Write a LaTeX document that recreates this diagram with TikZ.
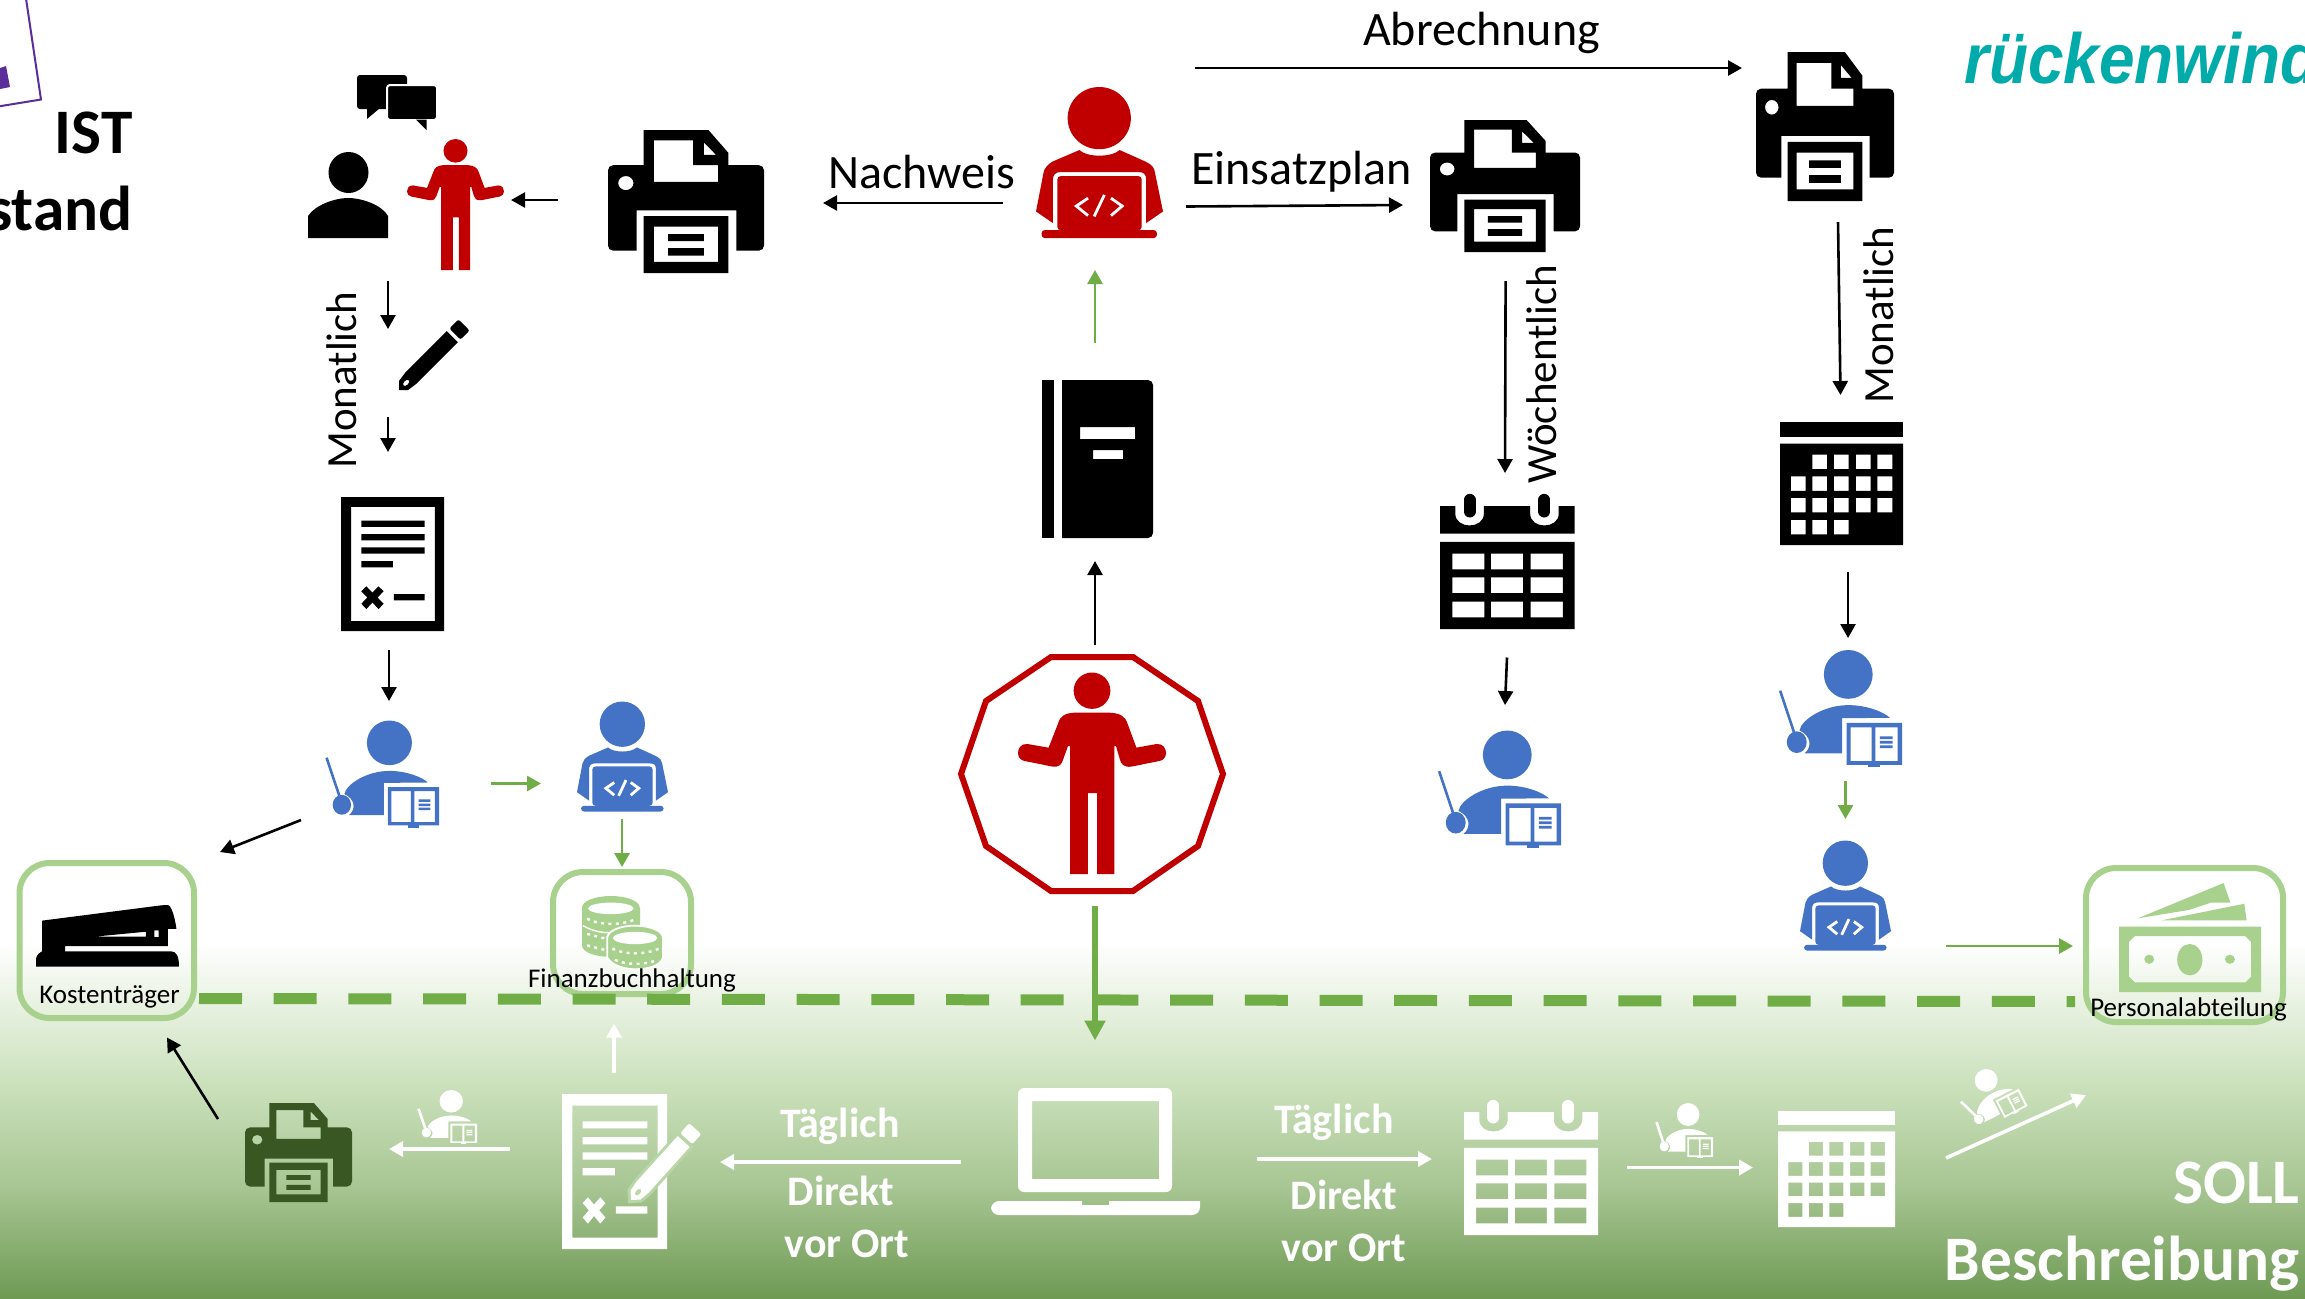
\documentclass[tikz,border=0pt]{standalone}
\usepackage{fontspec}
\setmainfont{Carlito}
\newfontfamily\logofont{Liberation Sans}
\usetikzlibrary{arrows.meta}
\definecolor{redc}{HTML}{C00000}
\definecolor{bluec}{HTML}{4472C4}
\definecolor{greenc}{HTML}{70AD47}
\definecolor{lightg}{HTML}{A9D18E}
\definecolor{darkg}{HTML}{385723}
\definecolor{teallogo}{HTML}{00ABA9}
\definecolor{purplec}{HTML}{5B2D9B}
\definecolor{gapg}{HTML}{B9D6A6}
\definecolor{g1}{HTML}{CBE1BC}
\definecolor{g2}{HTML}{A7C592}
\definecolor{g3}{HTML}{6E9A54}
\tikzset{
  blk/.style={draw=black,line width=1.3pt,-{Triangle[width=7.5pt,length=7pt]}},
  grn/.style={draw=greenc,line width=1.4pt,-{Triangle[width=7.5pt,length=7pt]}},
  wht/.style={draw=white,line width=1.8pt,-{Triangle[width=7.5pt,length=7pt]}},
  grnbig/.style={draw=greenc,line width=3pt,-{Triangle[width=10pt,length=10pt]}},
  boxg/.style={draw=lightg,line width=3pt,rounded corners=15pt,inner sep=0pt},
  lab/.style={inner sep=0pt,font=\fontsize{24}{24}\selectfont},
  rotlab/.style={inner sep=0pt,rotate=90,font=\fontsize{21.5}{22}\selectfont},
  small/.style={inner sep=0pt,font=\fontsize{13.5}{14}\selectfont},
  title/.style={inner sep=0pt,font=\fontsize{31.7}{32}\selectfont\bfseries},
  wlab/.style={inner sep=0pt,text=white,font=\fontsize{21}{21}\selectfont\bfseries},
}
% all icons: x y w h colour, in reference pixels
\newcommand{\printericon}[5]{\begin{scope}[shift={(#1,#2)},xscale=#3/306,yscale=#4/345]
  \fill[#5,even odd rule]
    [rounded corners=2.5pt] (0,85) [sharp corners] -- (70,85) -- (70,0) -- (197,0) -- (236,55) -- (236,85) [rounded corners=2.5pt] -- (306,85) -- (306,291) [sharp corners] -- (252,291) -- (252,194) -- (56,194) -- (56,291) [rounded corners=2.5pt] -- (0,291) -- cycle
    [sharp corners] (90,25) -- (167,25) -- (167,85) -- (216,85) -- (216,125) -- (90,125) -- cycle
    (188,30) -- (212,60) -- (188,60) -- cycle
    (35,128) ellipse [x radius=15,y radius=17];
  \fill[#5,even odd rule] (70,208) rectangle (236,345) (90,233) rectangle (216,318)
    (118,251) rectangle (188,268) (118,285) rectangle (188,303);
\end{scope}}
\newcommand{\codericon}[5]{\begin{scope}[shift={(#1,#2)},xscale=#3/249,yscale=#4/364]
  \fill[#5] (124,75) ellipse [x radius=62,y radius=75];
  \fill[#5] (85,152) .. controls (100,170) and (148,170) .. (164,152) -- (215,180) .. controls (228,188) and (232,195) .. (233,205) -- (249,300) -- (216,328) -- (216,225) .. controls (216,210) and (212,205) .. (200,205) -- (48,205) .. controls (38,205) and (33,212) .. (33,225) -- (33,328) -- (0,300) -- (15,205) .. controls (17,195) and (22,188) .. (32,180) -- cycle;
  \fill[#5,rounded corners=1.5pt] (42,345) -- (42,215) -- (207,215) -- (207,345) -- cycle;
  \fill[#5,rounded corners=1.5pt] (11,345) -- (237,345) -- (237,364) -- (11,364) -- cycle;
  \draw[white,line width=1.4pt] (102,268) -- (79,287) -- (102,310) (134,260) -- (114,312) (147,268) -- (169,287) -- (147,310);
\end{scope}}
\newcommand{\teachericon}[5]{\begin{scope}[shift={(#1,#2)},xscale=#3/222,yscale=#4/259]
  \fill[#5] (125,54) ellipse [x radius=44,y radius=54];
  \fill[#5] (46,229) .. controls (60,215) and (58,190) .. (37,178) .. controls (40,155) and (80,122) .. (125,122) .. controls (160,122) and (190,138) .. (200,150) -- (114,151) -- (114,229) -- cycle;
  \fill[#5] (32,204) ellipse [x radius=18,y radius=24];
  \draw[#5,line width=1.3pt] (2,90) -- (27,182);
  \fill[#5,even odd rule] (122,161) rectangle (222,254) (129,171) rectangle (167,246) (174,171) rectangle (214,246)
    (182,191) rectangle (205,197) (182,201) rectangle (205,207) (182,211) rectangle (205,217);
  \fill[#5] (161,254) rectangle (182,259);
\end{scope}}
\newcommand{\shrugicon}[5]{\begin{scope}[shift={(#1,#2)},xscale=#3/290,yscale=#4/488]
  \fill[#5] (145,44) ellipse [x radius=36,y radius=44];
  \fill[#5] (145,97) -- (175,97) .. controls (200,98) and (210,105) .. (215,125) -- (232,182) -- (272,173) .. controls (285,172) and (290,185) .. (290,195) .. controls (290,205) and (285,212) .. (278,214) -- (222,228) .. controls (208,230) and (202,222) .. (200,212) -- (192,178) -- (189,178) -- (189,488) -- (155,488) -- (155,292) -- (137,292) -- (137,488) -- (102,488) -- (102,178) -- (98,178) -- (88,212) .. controls (86,222) and (80,230) .. (68,228) -- (12,214) .. controls (5,212) and (0,205) .. (0,195) .. controls (0,185) and (5,172) .. (18,173) -- (60,182) -- (78,125) .. controls (83,105) and (90,98) .. (115,97) -- cycle;
\end{scope}}
\newcommand{\docicon}[5]{\begin{scope}[shift={(#1,#2)},xscale=#3/203,yscale=#4/324]
  \fill[#5,even odd rule] (0,0) rectangle (203,324) (20,24) rectangle (185,300)
    (40,57) rectangle (165,72) (40,90) rectangle (165,105) (40,122) rectangle (165,137) (40,155) rectangle (102,170)
    (104,235) rectangle (165,250)
    (40,228) -- (50,216) -- (62,231) -- (74,216) -- (84,228) -- (72,243) -- (84,258) -- (74,271) -- (62,255) -- (50,271) -- (40,258) -- (52,243) -- cycle;
\end{scope}}
\newcommand{\calweekicon}[5]{\begin{scope}[shift={(#1,#2)},xscale=#3/264,yscale=#4/324]
  \fill[#5] (0,29) -- (30,29) -- (30,47) .. controls (30,85) and (86,85) .. (86,47) -- (86,29) -- (177,29) -- (177,47) .. controls (177,85) and (233,85) .. (233,47) -- (233,29) -- (264,29) -- (264,95) -- (0,95) -- cycle;
  \draw[#5,line width=6pt,line cap=round] (58,14) -- (58,42) (205,14) -- (205,42);
  \fill[#5,even odd rule] (0,115) rectangle (264,324)
    \foreach \cx in {24,100,178} { \foreach \cy in {143,200,258} { (\cx,\cy) rectangle (\cx+63,\cy+38) } };
\end{scope}}
\newcommand{\calmonthicon}[5]{\begin{scope}[shift={(#1,#2)},xscale=#3/274,yscale=#4/297]
  \fill[#5] (0,0) rectangle (274,35);
  \fill[#5,even odd rule] (0,52) rectangle (274,297)
    \foreach \cx/\cy in {72/79,120/79,169/79,217/79,24/131,72/131,120/131,169/131,217/131,24/183,72/183,120/183,169/183,217/183,24/236,72/236,120/236} { (\cx,\cy) rectangle (\cx+33,\cy+35) };
\end{scope}}
% pencil: tip x y, length (px), angle, colour
\newcommand{\pencilicon}[5]{\begin{scope}[shift={(#1,#2)},rotate=#4,scale=#3/100]
  \fill[#5,even odd rule] (0,0) -- (7,-7) -- (18,-8.5) -- (82,-8.5) -- (82,8.5) -- (18,8.5) -- (7,7) -- cycle (11,0) ellipse [x radius=4,y radius=2.5];
  \fill[#5,rounded corners=1pt] (86,-8.5) rectangle (100,8.5);
\end{scope}}
\begin{document}
\begin{tikzpicture}[x=0.5pt,y=-0.5pt]
\useasboundingbox (0,0) rectangle (2305,1298);
\clip (0,0) rectangle (2305,1298);
\fill[white] (0,0) rectangle (2305,1298);
% background band
\shade[top color=white,bottom color=g1] (0,941) rectangle (2305,1084);
\shade[top color=g1,bottom color=g2] (0,1083) rectangle (2305,1189);
\shade[top color=g2,bottom color=g3] (0,1188) rectangle (2305,1298);
% cut-off picture top left
\draw[purplec,line width=1pt,fill=white] (25.5,-5) -- (41,99.5) -- (-5,107);
\fill[purplec] (0,68) -- (6,66) -- (10,87) -- (0,89) -- cycle;
% headings
\node[title,anchor=base east] (ist) at (133,153) {IST};
\node[title,anchor=base east] (stand) at (133,230.5) {stand};
\node[title,anchor=base east,text=white] (soll) at (2300,1203) {SOLL};
\node[title,anchor=base east,text=white] (beschr) at (2300,1280) {Beschreibung};
\node[anchor=base west,inner sep=0pt,text=teallogo,xscale=0.9,transform shape,font=\logofont\fontsize{35.5}{36}\selectfont\bfseries\itshape] (logo) at (1964,83) {rückenwind};
% upper-left group
\fill[black,rounded corners=1.5pt] (357,75) rectangle (407,109);
\fill[black] (367,108) -- (367,119) -- (380,108) -- cycle;
\fill[black,draw=white,line width=1pt,rounded corners=1.5pt] (387,85) rectangle (437,120);
\fill[black] (416,119.5) -- (426.5,130) -- (426.5,119.5) -- cycle;
\fill[black] (348.5,172.5) ellipse [x radius=20,y radius=20.5];
\fill[black] (308,238) -- (308,216) .. controls (315,205) and (335,198) .. (348,198) .. controls (362,198) and (382,205) .. (388,216) -- (388,238) -- cycle;
\shrugicon{407}{139}{97}{131}{redc}
\printericon{608}{130}{156}{143}{black}
\pencilicon{399}{390}{92}{45}{black}
\docicon{341}{497}{103}{134}{black}
\teachericon{325.5}{720.5}{113.5}{107}{bluec}
\codericon{577}{701.5}{91}{110}{bluec}
% centre column
\codericon{1036}{87}{127}{151}{redc}
\fill[black] (1042,380) rectangle (1054,538);
\fill[black,even odd rule] (1062,380) [rounded corners=2.5pt] -- (1153,380) -- (1153,538) [sharp corners] -- (1062,538) -- cycle
   (1080,427) rectangle (1135,439) (1093,450) rectangle (1123,459);
\draw[redc,line width=3pt,fill=white] (1051,657) -- (1133,657) -- (1198,701) -- (1223,774) -- (1198,846) -- (1133,891) -- (1051,891) -- (986,846) -- (961,774) -- (986,701) -- cycle;
\shrugicon{1018}{672.5}{148}{201.5}{redc}
% right columns
\printericon{1430}{120}{150}{132}{black}
\calweekicon{1440}{494}{134.5}{135}{black}
\teachericon{1438}{730.5}{123}{117}{bluec}
\printericon{1756}{52}{138}{149}{black}
\calmonthicon{1780}{422}{123}{123}{black}
\teachericon{1779}{650}{123}{117}{bluec}
\codericon{1800}{840.5}{91}{110}{bluec}
% boxes
\node[boxg,minimum width=87.25pt,minimum height=77.5pt] (kbox) at (106.75,940.5) {};
\node[boxg,minimum width=69pt,minimum height=61pt] (fbox) at (622,933) {};
\node[boxg,minimum width=98.5pt,minimum height=77pt] (pbox) at (2184.5,945) {};
% stapler
\begin{scope}[shift={(36,905)},xscale=143/280,yscale=62/151]
\fill[black,even odd rule] [rounded corners=2pt] (12,38) -- (250,0) [sharp corners] .. controls (265,0) and (272,30) .. (275,58) -- (258,58) -- (258,100) -- (57,100) -- (57,113) -- (265,113) .. controls (275,113) and (280,125) .. (280,150) -- (0,150) -- (0,130) .. controls (2,120) and (8,115) .. (12,113) -- cycle
  (115,77) -- (215,65) -- (215,77) -- cycle (232,62) rectangle (240,78);
\end{scope}
% coins
\begin{scope}[shift={(582,896)},xscale=85/168,yscale=72/175]
\fill[lightg] (0,28) -- (0,120) .. controls (0,138) and (30,148) .. (57,148) -- (115,148) -- (115,28) -- cycle;
\fill[lightg] (57,28) ellipse [x radius=57,y radius=28];
\fill[white] (57,30) ellipse [x radius=45,y radius=14];
\draw[white,line width=1.2pt,dash pattern=on 1.5pt off 2.2pt] (10,55) .. controls (35,72) and (80,72) .. (108,55);
\draw[white,line width=0.7pt] (2,72) .. controls (30,92) and (60,92) .. (75,85);
\draw[white,line width=1.2pt,dash pattern=on 1.5pt off 2.2pt] (10,92) -- (48,104) (10,120) -- (48,132);
\fill[lightg,draw=white,line width=0.9pt] (50,102) -- (50,150) .. controls (60,170) and (85,178) .. (105,178) .. controls (130,178) and (155,170) .. (160,150) -- (160,102) .. controls (160,85) and (135,72) .. (105,72) .. controls (75,72) and (50,85) .. cycle;
\fill[white] (105,102) ellipse [x radius=44,y radius=15];
\draw[white,line width=1.2pt,dash pattern=on 1.5pt off 2.2pt] (60,128) .. controls (85,143) and (125,143) .. (152,128) (65,155) .. controls (85,168) and (125,168) .. (150,155);
\end{scope}
% money
\begin{scope}[shift={(2119,883)},xscale=142/315,yscale=109/263]
\fill[lightg] (42,85) -- (232,0) -- (247,47) -- (205,47) -- (155,65) -- cycle;
\fill[lightg] (95,90) -- (278,50) -- (283,90) -- cycle;
\fill[lightg,even odd rule] (0,105) rectangle (315,263)
  (35,128) -- (280,128) -- (293,142) -- (293,226) -- (280,240) -- (35,240) -- (22,226) -- (22,142) -- cycle
  (157,185) ellipse [x radius=28,y radius=38]
  (67,184) ellipse [x radius=11,y radius=11]
  (246,184) ellipse [x radius=11,y radius=11];
\end{scope}
% bottom row
\printericon{245}{1103}{107}{99}{darkg}
\teachericon{418}{1090}{59}{54}{white}
\docicon{562}{1094}{105}{155}{white}
\begin{scope}[shift={(631,1200)},rotate=48,scale=0.96]
\draw[gapg,line width=3pt,fill=gapg] (0,0) -- (7,-7) -- (18,-8.5) -- (82,-8.5) -- (82,8.5) -- (18,8.5) -- (7,7) -- cycle;
\end{scope}
\pencilicon{631}{1200}{96}{48}{white}
% laptop
\fill[white,even odd rule,rounded corners=3pt] (1018,1192) -- (1018,1088) -- (1172,1088) -- (1172,1192) -- cycle
  [sharp corners] (1032,1101) rectangle (1159,1179);
\fill[white,rounded corners=3pt] (991,1201) [sharp corners] -- (1082,1201) -- (1082,1205) -- (1109,1205) -- (1109,1201) -- (1200,1201) [rounded corners=4pt] -- (1200,1215) -- (991,1215) -- cycle;
\calweekicon{1464}{1100}{134}{135}{white}
\teachericon{1656}{1103}{57}{55}{white}
\calmonthicon{1778}{1111}{117}{116}{white}
\begin{scope}[shift={(1990,1096)},rotate=27]
\teachericon{-29}{-27}{58}{54}{white}
\end{scope}
% text labels
\node[lab,anchor=base] (abr) at (1481.5,45) {Abrechnung};
\node[lab,anchor=base] (nach) at (921.5,188) {Nachweis};
\node[lab,anchor=base] (eins) at (1301.5,184) {Einsatzplan};
\node[rotlab,anchor=base] (mon1) at (356,380) {Monatlich};
\node[rotlab,anchor=base] (woe) at (1556,374) {Wöchentlich};
\node[rotlab,anchor=base] (mon2) at (1893,315) {Monatlich};
\node[small,anchor=base] (kos) at (109.5,1003) {Kostenträger};
\node[small,anchor=base] (fin) at (632,987) {Finanzbuchhaltung};
\node[small,anchor=base] (per) at (2188.5,1016) {Personalabteilung};
\node[wlab,anchor=base] (t1) at (840,1137.5) {Täglich};
\node[wlab,anchor=base] (d1) at (841,1205.5) {Direkt};
\node[wlab,anchor=base] (v1) at (847,1257.5) {vor Ort};
\node[wlab,anchor=base] (t2) at (1334,1133.5) {Täglich};
\node[wlab,anchor=base] (d2) at (1344,1209.5) {Direkt};
\node[wlab,anchor=base] (v2) at (1344,1261.5) {vor Ort};
% dashed divider
\coordinate (dashL) at (199,998.5);
\coordinate (dashR) at (2075,1001.5);
\draw[greenc,line width=5.5pt,dash pattern=on 21.5pt off 15.85pt] (dashL) -- (dashR);
% connector end points
\coordinate (a1s) at (558,200); \coordinate (a1e) at (511,200);
\coordinate (a2s) at (388,281); \coordinate (a2e) at (388,329);
\coordinate (a3s) at (388,417); \coordinate (a3e) at (388,452);
\coordinate (a4s) at (389,650); \coordinate (a4e) at (389,701);
\coordinate (a5s) at (301,820); \coordinate (a5e) at (220,852);
\coordinate (a6s) at (491,783.5); \coordinate (a6e) at (541,783.5);
\coordinate (a7s) at (622,819); \coordinate (a7e) at (622,867);
\coordinate (a8s) at (1003,203); \coordinate (a8e) at (823,203);
\coordinate (a9s) at (1186,206.5); \coordinate (a9e) at (1403,205);
\coordinate (a10s) at (1195,68); \coordinate (a10e) at (1742,68);
\coordinate (a11s) at (1095,343); \coordinate (a11e) at (1095,270);
\coordinate (a12s) at (1095,645); \coordinate (a12e) at (1095,561);
\coordinate (a13s) at (1505.6,281); \coordinate (a13e) at (1505,473);
\coordinate (a14s) at (1507,657.5); \coordinate (a14e) at (1505,705);
\coordinate (a15s) at (1838,222); \coordinate (a15e) at (1840.5,395);
\coordinate (a16s) at (1848,572); \coordinate (a16e) at (1848,638);
\coordinate (a17s) at (1845.5,781); \coordinate (a17e) at (1845.5,819);
\coordinate (a18s) at (1946,946); \coordinate (a18e) at (2073,946);
\coordinate (a19s) at (1095,906); \coordinate (a19e) at (1095,1040.5);
\coordinate (a20s) at (218,1119); \coordinate (a20e) at (167,1037.5);
\coordinate (a21s) at (614,1073); \coordinate (a21e) at (614,1023.5);
\coordinate (a22s) at (510,1149); \coordinate (a22e) at (389,1149);
\coordinate (a23s) at (961,1162); \coordinate (a23e) at (720,1162);
\coordinate (a24s) at (1257,1159); \coordinate (a24e) at (1432,1159);
\coordinate (a25s) at (1627,1167.5); \coordinate (a25e) at (1753,1167.5);
\coordinate (a26s) at (1946,1158); \coordinate (a26e) at (2086,1095);
\foreach \n in {1,2,3,4,5,8,9,10,12,13,14,15,16,20} \draw[blk] (a\n s) -- (a\n e);
\foreach \n in {6,7,11,17,18} \draw[grn] (a\n s) -- (a\n e);
\foreach \n in {21,22,23,24,25,26} \draw[wht] (a\n s) -- (a\n e);
\draw[grnbig] (a19s) -- (a19e);
\end{tikzpicture}
\end{document}
